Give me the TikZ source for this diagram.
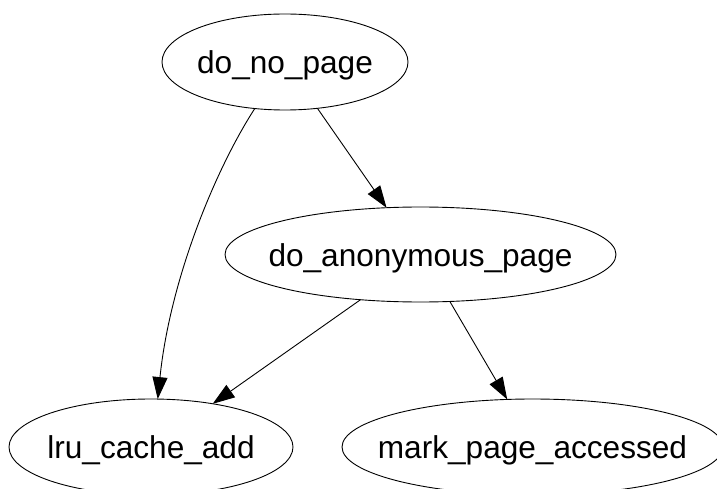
\documentclass[tikz,border=0pt]{standalone}
\usepackage{fontspec}
\setmainfont{Liberation Sans}
\usetikzlibrary{shapes.geometric,arrows.meta}
\newcommand{\ctext}[1]{\raisebox{-11.5pt}[0pt][0pt]{\makebox[0pt]{#1}}}
\begin{document}
\begin{tikzpicture}[x=1pt,y=-1pt,
  every node/.style={font=\fontsize{31.6}{36}\selectfont},
  nd/.style={draw,ellipse,line width=0.9pt,inner sep=0pt,outer sep=0pt},
  arr/.style={line width=0.9pt,-{Triangle[length=22pt,width=15pt]}}]
\useasboundingbox (0,0) rectangle (717,489);
\node[nd,minimum width=246pt,minimum height=96pt] (nopage) at (285,62) {\ctext{do\_no\_page}};
\node[nd,minimum width=391pt,minimum height=95pt] (anon) at (420.5,254.5) {\ctext{do\_anonymous\_page}};
\node[nd,minimum width=284pt,minimum height=96pt] (lru) at (151,447) {\ctext{lru\_cache\_add}};
\node[nd,minimum width=381pt,minimum height=96pt] (mark) at (532.5,447) {\ctext{mark\_page\_accessed}};
\draw[arr] (nopage.-123.7) .. controls (215,170) and (170,280) .. (lru.82.9);
\draw[arr] (nopage.-55.5) -- (anon.126.8);
\draw[arr] (anon.-143.8) -- (lru.35.5);
\draw[arr] (anon.-58.2) -- (mark.118.9);
\end{tikzpicture}
\end{document}
